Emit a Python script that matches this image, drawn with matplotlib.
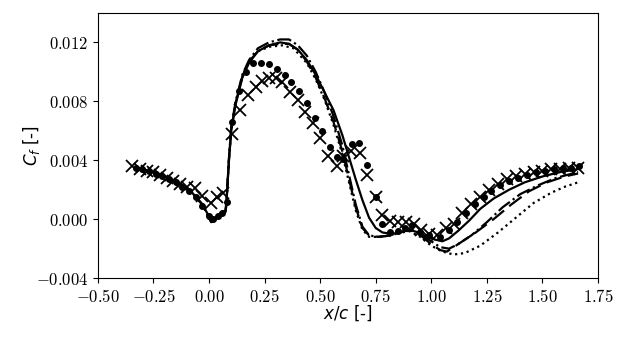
# skin friction coefficient along x/c: simulations (lines) vs experiments (markers)

import matplotlib.pyplot as plt
from matplotlib.ticker import FuncFormatter, MultipleLocator

plt.rcParams["mathtext.fontset"] = "cm"

# solid line
sol_x = [-0.33, -0.25, -0.18, -0.12, -0.07, -0.03, 0.00, 0.01, 0.03, 0.06, 0.075, 0.08, 0.09, 0.10,
         0.12, 0.15, 0.18, 0.22, 0.27, 0.32, 0.36, 0.40, 0.44, 0.48, 0.52, 0.56, 0.60, 0.63, 0.66,
         0.69, 0.72, 0.75, 0.78, 0.82, 0.86, 0.90, 0.94, 0.98, 1.02, 1.05, 1.08, 1.12, 1.17, 1.22,
         1.28, 1.35, 1.42, 1.50, 1.58, 1.66]
sol_y = [0.0035, 0.0032, 0.0028, 0.0023, 0.0017, 0.0010, 0.0002, -0.0001, 0.0001, 0.0005, 0.0006,
         0.0015, 0.0040, 0.0060, 0.0078, 0.0096, 0.0106, 0.0114, 0.0118, 0.0120, 0.0119, 0.0115,
         0.0108, 0.0098, 0.0086, 0.0074, 0.0057, 0.0042, 0.0027, 0.0013, 0.0001, -0.0006, -0.0009,
         -0.0010, -0.0009, -0.0007, -0.0009, -0.0012, -0.0014, -0.0015, -0.0013, -0.0008, -0.0001,
         0.0007, 0.0014, 0.0020, 0.0025, 0.0029, 0.0032, 0.0034]

# dash-dot line
dd_x = [-0.33, -0.25, -0.18, -0.12, -0.07, -0.03, 0.00, 0.01, 0.03, 0.06, 0.075, 0.08, 0.09, 0.10,
        0.12, 0.15, 0.18, 0.22, 0.27, 0.32, 0.36, 0.40, 0.44, 0.48, 0.52, 0.56, 0.60, 0.63, 0.66,
        0.69, 0.72, 0.76, 0.82, 0.88, 0.92, 0.96, 1.00, 1.04, 1.08, 1.12, 1.18, 1.25, 1.32, 1.40,
        1.48, 1.56, 1.66]
dd_y = [0.0035, 0.0032, 0.0028, 0.0023, 0.0017, 0.0010, 0.0001, -0.0002, 0.0000, 0.0004, 0.0005,
        0.0015, 0.0042, 0.0062, 0.0080, 0.0098, 0.0108, 0.0116, 0.0120, 0.0122, 0.0122, 0.0118,
        0.0111, 0.0100, 0.0086, 0.0070, 0.0050, 0.0030, 0.0010, -0.0005, -0.0011, -0.0012,
        -0.0011, -0.0008, -0.0007, -0.0011, -0.0015, -0.0019, -0.0020, -0.0017, -0.0011, -0.0002,
        0.0008, 0.0017, 0.0023, 0.0028, 0.0032]

# dashed line
da_x = [-0.33, -0.25, -0.18, -0.12, -0.07, -0.03, 0.00, 0.01, 0.03, 0.06, 0.075, 0.08, 0.09, 0.10,
        0.12, 0.15, 0.18, 0.22, 0.27, 0.32, 0.36, 0.40, 0.44, 0.48, 0.52, 0.56, 0.60, 0.63, 0.66,
        0.69, 0.72, 0.76, 0.82, 0.88, 0.92, 0.96, 1.00, 1.04, 1.07, 1.12, 1.20, 1.28, 1.36, 1.44,
        1.52, 1.60, 1.66]
da_y = [0.0035, 0.0032, 0.0028, 0.0023, 0.0017, 0.0010, 0.0001, -0.0002, 0.0000, 0.0004, 0.0005,
        0.0015, 0.0041, 0.0061, 0.0079, 0.0097, 0.0107, 0.0114, 0.0118, 0.0119, 0.0119, 0.0115,
        0.0107, 0.0096, 0.0082, 0.0066, 0.0046, 0.0027, 0.0008, -0.0006, -0.0011, -0.0012,
        -0.0011, -0.0008, -0.0008, -0.0012, -0.0017, -0.0021, -0.0022, -0.0017, -0.0009, 0.0000,
        0.0010, 0.0019, 0.0025, 0.0029, 0.0031]

# dotted line
dot_x = [-0.33, -0.25, -0.18, -0.12, -0.07, -0.03, 0.00, 0.01, 0.03, 0.06, 0.075, 0.08, 0.09, 0.10,
         0.12, 0.15, 0.18, 0.22, 0.27, 0.33, 0.38, 0.44, 0.48, 0.52, 0.56, 0.60, 0.63, 0.66, 0.69,
         0.72, 0.78, 0.84, 0.90, 0.95, 1.00, 1.05, 1.10, 1.15, 1.22, 1.30, 1.38, 1.46, 1.54, 1.60,
         1.66]
dot_y = [0.0035, 0.0032, 0.0028, 0.0023, 0.0017, 0.0010, 0.0001, -0.0002, 0.0000, 0.0004, 0.0005,
         0.0015, 0.0041, 0.0061, 0.0079, 0.0097, 0.0107, 0.0114, 0.0117, 0.0118, 0.0116, 0.0106,
         0.0095, 0.0081, 0.0064, 0.0044, 0.0025, 0.0006, -0.0007, -0.0012, -0.0012, -0.0010,
         -0.0008, -0.0012, -0.0018, -0.0022, -0.0024, -0.0023, -0.0018, -0.0009, 0.0001, 0.0011,
         0.0018, 0.0022, 0.0025]

# experiment, circles
circ_x = [-0.33, -0.30, -0.27, -0.24, -0.21, -0.18, -0.15, -0.12, -0.09, -0.06, -0.03, 0.00, 0.02,
          0.04, 0.06, 0.08, 0.105, 0.135, 0.165, 0.20, 0.235, 0.27, 0.305, 0.34, 0.37, 0.405, 0.44,
          0.475, 0.51, 0.545, 0.575, 0.605, 0.645, 0.675, 0.71, 0.75, 0.78, 0.815, 0.85, 0.88,
          0.915, 0.95, 0.99, 1.04, 1.08, 1.115, 1.155, 1.195, 1.235, 1.27, 1.31, 1.35, 1.39, 1.43,
          1.47, 1.51, 1.55, 1.59, 1.63, 1.665]
circ_y = [0.0035, 0.0034, 0.0033, 0.0031, 0.0029, 0.0027, 0.0025, 0.0022, 0.0019, 0.0015, 0.0009,
          0.0002, 0.0000, 0.0002, 0.0004, 0.0012, 0.0066, 0.0087, 0.0100, 0.0106, 0.0106, 0.0105,
          0.0102, 0.0098, 0.0093, 0.0087, 0.0079, 0.0069, 0.0060, 0.0049, 0.0042, 0.0041, 0.0051,
          0.0052, 0.0037, 0.0015, -0.0003, -0.0009, -0.0008, -0.0006, -0.0004, -0.0009, -0.0011,
          -0.0012, -0.0007, -0.0002, 0.0004, 0.0010, 0.0015, 0.0019, 0.0023, 0.0026, 0.0028,
          0.0030, 0.0032, 0.0033, 0.0034, 0.0035, 0.0035, 0.0036]

# experiment, crosses
xm_x = [-0.345, -0.31, -0.28, -0.25, -0.22, -0.19, -0.16, -0.13, -0.10, -0.065, -0.03, 0.01, 0.035,
        0.063, 0.105, 0.14, 0.175, 0.21, 0.24, 0.27, 0.30, 0.33, 0.365, 0.40, 0.43, 0.47, 0.50,
        0.535, 0.575, 0.605, 0.64, 0.68, 0.71, 0.75, 0.78, 0.815, 0.85, 0.885, 0.92, 0.955, 0.99,
        1.025, 1.065, 1.10, 1.14, 1.18, 1.22, 1.26, 1.30, 1.34, 1.38, 1.42, 1.46, 1.50, 1.54, 1.58,
        1.62, 1.66]
xm_y = [0.0036, 0.0034, 0.0033, 0.0032, 0.0030, 0.0028, 0.0026, 0.0024, 0.0022, 0.0021, 0.0016,
        0.0011, 0.0015, 0.0018, 0.0058, 0.0074, 0.0084, 0.0090, 0.0094, 0.0096, 0.0096, 0.0093,
        0.0086, 0.0081, 0.0073, 0.0065, 0.0055, 0.0043, 0.0036, 0.0043, 0.0046, 0.0045, 0.0030,
        0.0015, 0.0003, -0.0001, -0.0002, -0.0002, -0.0003, -0.0007, -0.0010, -0.0011, -0.0006,
        -0.0003, 0.0004, 0.0010, 0.0015, 0.0020, 0.0024, 0.0027, 0.0029, 0.0031, 0.0032, 0.0033,
        0.0034, 0.0034, 0.0035, 0.0035]

fig = plt.figure(figsize=(6.23, 3.4), dpi=100)
ax = fig.add_axes([0.157, 0.182, 0.803, 0.780])

ax.plot(sol_x, sol_y, color="k", lw=1.6, ls="-")
ax.plot(dd_x, dd_y, color="k", lw=1.6, ls="-.")
ax.plot(da_x, da_y, color="k", lw=1.6, dashes=(7, 3))
ax.plot(dot_x, dot_y, color="k", lw=1.6, ls=":")
ax.plot(circ_x, circ_y, "o", color="k", ms=4, ls="none")
ax.plot(xm_x, xm_y, "x", color="k", ms=8, mew=1.3, ls="none")

ax.set_xlim(-0.5, 1.75)
ax.set_ylim(-0.004, 0.014)
ax.xaxis.set_major_locator(MultipleLocator(0.25))
ax.yaxis.set_major_locator(MultipleLocator(0.004))
ax.xaxis.set_major_formatter(FuncFormatter(lambda v, p: r"$%.2f$" % v))
ax.yaxis.set_major_formatter(FuncFormatter(lambda v, p: r"$%.3f$" % v))
ax.tick_params(axis="both", labelsize=12)

ax.set_xlabel(r"$x/c$ [-]", fontsize=12, math_fontfamily="dejavusans", labelpad=-2)
ax.set_ylabel(r"$C_f$ [-]", fontsize=12, math_fontfamily="dejavusans")
ax.yaxis.set_label_coords(-0.112, 0.5)

fig.savefig("out.png", dpi=100)
